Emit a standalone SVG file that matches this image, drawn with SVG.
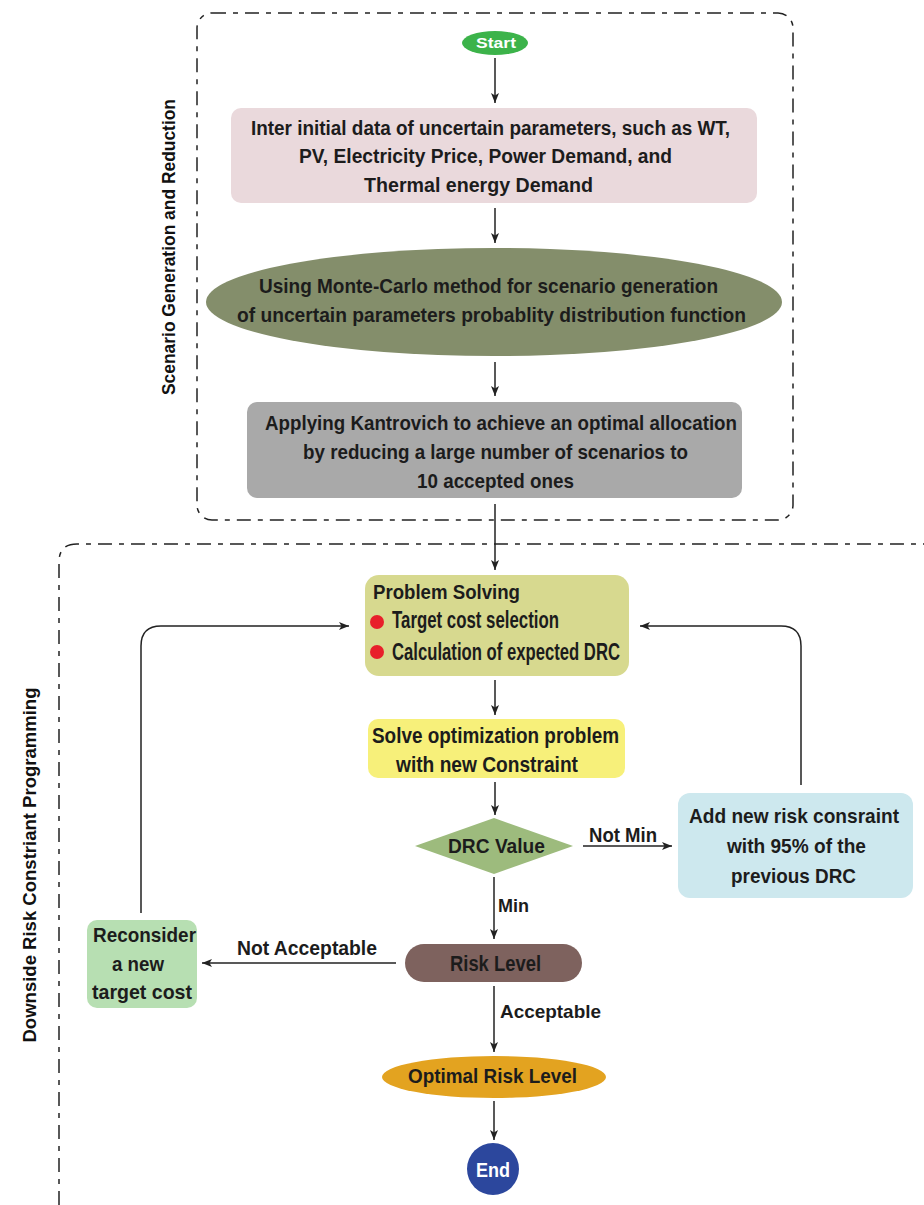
<svg xmlns="http://www.w3.org/2000/svg" width="924" height="1205" viewBox="0 0 924 1205">
<style>
.t{font-family:"Liberation Sans",Arial,sans-serif;font-weight:bold;fill:#1c1c1c;text-anchor:start}
.w{fill:#ffffff}
.side{font-family:"Liberation Sans",Arial,sans-serif;font-weight:bold;font-size:18px;fill:#111;text-anchor:middle}
.dash{fill:none;stroke:#222;stroke-width:1.5;stroke-dasharray:14 7 5 7}
.c{fill:none;stroke:#222;stroke-width:1.5}
</style>
<defs>
<marker id="ah" viewBox="0 0 10 8" refX="10" refY="4" markerWidth="10" markerHeight="8" markerUnits="userSpaceOnUse" orient="auto">
<path d="M0,0 L10,4 L0,8 L2.5,4 z" fill="#222"/>
</marker>
</defs>
<rect fill="#ffffff" x="0" y="0" width="924" height="1205"/>

<g id="frames">
<rect class="dash" x="197" y="13" width="596" height="507" rx="15"/>
<path class="dash" d="M59 1205 V562 Q59 544 77 544 H926"/>
<text class="side" transform="translate(175,247) rotate(-90)" textLength="296" lengthAdjust="spacingAndGlyphs">Scenario Generation and Reduction</text>
<text class="side" transform="translate(36,865) rotate(-90)" textLength="355" lengthAdjust="spacingAndGlyphs">Downside Risk Constriant Programming</text>
</g>

<g id="connectors">
<line class="c" x1="495" y1="58" x2="495" y2="103" marker-end="url(#ah)"/>
<line class="c" x1="495" y1="208" x2="495" y2="243" marker-end="url(#ah)"/>
<line class="c" x1="495" y1="362" x2="495" y2="396" marker-end="url(#ah)"/>
<line class="c" x1="495" y1="504" x2="495" y2="570" marker-end="url(#ah)"/>
<line class="c" x1="495" y1="680" x2="495" y2="715" marker-end="url(#ah)"/>
<line class="c" x1="495" y1="782" x2="495" y2="815" marker-end="url(#ah)"/>
<line class="c" x1="494" y1="877" x2="494" y2="939" marker-end="url(#ah)"/>
<line class="c" x1="494" y1="986" x2="494" y2="1052" marker-end="url(#ah)"/>
<line class="c" x1="494" y1="1101" x2="494" y2="1140" marker-end="url(#ah)"/>
<line class="c" x1="583" y1="846" x2="672" y2="846" marker-end="url(#ah)"/>
<line class="c" x1="396" y1="963" x2="202" y2="963" marker-end="url(#ah)"/>
<path class="c" d="M801 785 V646 Q801 626 781 626 H640" marker-end="url(#ah)"/>
<path class="c" d="M141 913 V646 Q141 626 161 626 H349" marker-end="url(#ah)"/>
<text class="t" x="589" y="842" font-size="20" textLength="68" lengthAdjust="spacingAndGlyphs">Not Min</text>
<text class="t" x="498" y="912" font-size="19" textLength="31" lengthAdjust="spacingAndGlyphs">Min</text>
<text class="t" x="237" y="955" font-size="21" textLength="140" lengthAdjust="spacingAndGlyphs">Not Acceptable</text>
<text class="t" x="500" y="1018" font-size="19" textLength="101" lengthAdjust="spacingAndGlyphs">Acceptable</text>
</g>

<g id="start">
<ellipse cx="495" cy="43" rx="33" ry="12" fill="#3cb34a"/>
<text class="t w" x="476" y="48" font-size="15" textLength="40" lengthAdjust="spacingAndGlyphs">Start</text>
</g>

<g id="input">
<rect x="231" y="108" width="526" height="95" rx="10" fill="#ead9dc"/>
<text class="t" x="251" y="135" font-size="20" textLength="479" lengthAdjust="spacingAndGlyphs">Inter initial data of uncertain parameters, such as WT,</text>
<text class="t" x="299" y="163" font-size="20" textLength="373" lengthAdjust="spacingAndGlyphs">PV, Electricity Price, Power Demand, and</text>
<text class="t" x="364" y="192" font-size="20" textLength="229" lengthAdjust="spacingAndGlyphs">Thermal energy Demand</text>
</g>

<g id="montecarlo">
<ellipse cx="494" cy="302" rx="288" ry="54" fill="#848e6b"/>
<text class="t" x="259" y="293" font-size="21" textLength="459" lengthAdjust="spacingAndGlyphs">Using Monte-Carlo method for scenario generation</text>
<text class="t" x="237" y="322" font-size="21" textLength="509" lengthAdjust="spacingAndGlyphs">of uncertain parameters probablity distribution function</text>
</g>

<g id="kantrovich">
<rect x="247" y="402" width="495" height="96" rx="10" fill="#a9a9a9"/>
<text class="t" x="265" y="430" font-size="21" textLength="472" lengthAdjust="spacingAndGlyphs">Applying Kantrovich to achieve an optimal allocation</text>
<text class="t" x="303" y="459" font-size="21" textLength="385" lengthAdjust="spacingAndGlyphs">by reducing a large number of scenarios to</text>
<text class="t" x="417" y="488" font-size="21" textLength="157" lengthAdjust="spacingAndGlyphs">10 accepted ones</text>
</g>

<g id="problem">
<rect x="365" y="575" width="264" height="101" rx="14" fill="#d7d98f"/>
<text class="t" x="373" y="599" font-size="20" textLength="147" lengthAdjust="spacingAndGlyphs">Problem Solving</text>
<circle cx="377" cy="622" r="7" fill="#e8202a"/>
<text class="t" x="392" y="628" font-size="23" textLength="167" lengthAdjust="spacingAndGlyphs">Target cost selection</text>
<circle cx="377" cy="652" r="7" fill="#e8202a"/>
<text class="t" x="392" y="660" font-size="23" textLength="228" lengthAdjust="spacingAndGlyphs">Calculation of expected DRC</text>
</g>

<g id="solve">
<rect x="368" y="719" width="257" height="59" rx="10" fill="#f7f07a"/>
<text class="t" x="372" y="743" font-size="22" textLength="247" lengthAdjust="spacingAndGlyphs">Solve optimization problem</text>
<text class="t" x="396" y="772" font-size="22" textLength="182" lengthAdjust="spacingAndGlyphs">with new Constraint</text>
</g>

<g id="drc">
<polygon points="415,846 494,818 573,846 494,874" fill="#9dbb7d"/>
<text class="t" x="448" y="853" font-size="21" textLength="97" lengthAdjust="spacingAndGlyphs">DRC Value</text>
</g>

<g id="addrisk">
<rect x="678" y="793" width="235" height="105" rx="12" fill="#cde8ee"/>
<text class="t" x="689" y="823" font-size="21" textLength="210" lengthAdjust="spacingAndGlyphs">Add new risk consraint</text>
<text class="t" x="727" y="853" font-size="21" textLength="139" lengthAdjust="spacingAndGlyphs">with 95% of the</text>
<text class="t" x="731" y="883" font-size="21" textLength="125" lengthAdjust="spacingAndGlyphs">previous DRC</text>
</g>

<g id="risklevel">
<rect x="405" y="944" width="177" height="38" rx="19" fill="#7e625e"/>
<text class="t" x="450" y="971" font-size="22" textLength="91" lengthAdjust="spacingAndGlyphs">Risk Level</text>
</g>

<g id="reconsider">
<rect x="87" y="920" width="110" height="88" rx="10" fill="#b7dfb2"/>
<text class="t" x="93" y="942" font-size="21" textLength="103" lengthAdjust="spacingAndGlyphs">Reconsider</text>
<text class="t" x="112" y="971" font-size="21" textLength="52" lengthAdjust="spacingAndGlyphs">a new</text>
<text class="t" x="92" y="999" font-size="21" textLength="100" lengthAdjust="spacingAndGlyphs">target cost</text>
</g>

<g id="optimal">
<ellipse cx="494" cy="1077" rx="112" ry="21" fill="#e3a320"/>
<text class="t" x="408" y="1083" font-size="21" textLength="169" lengthAdjust="spacingAndGlyphs">Optimal Risk Level</text>
</g>

<g id="end">
<circle cx="493" cy="1169" r="26" fill="#2c479d"/>
<text class="t w" x="476" y="1177" font-size="20" textLength="34" lengthAdjust="spacingAndGlyphs">End</text>
</g>
</svg>
